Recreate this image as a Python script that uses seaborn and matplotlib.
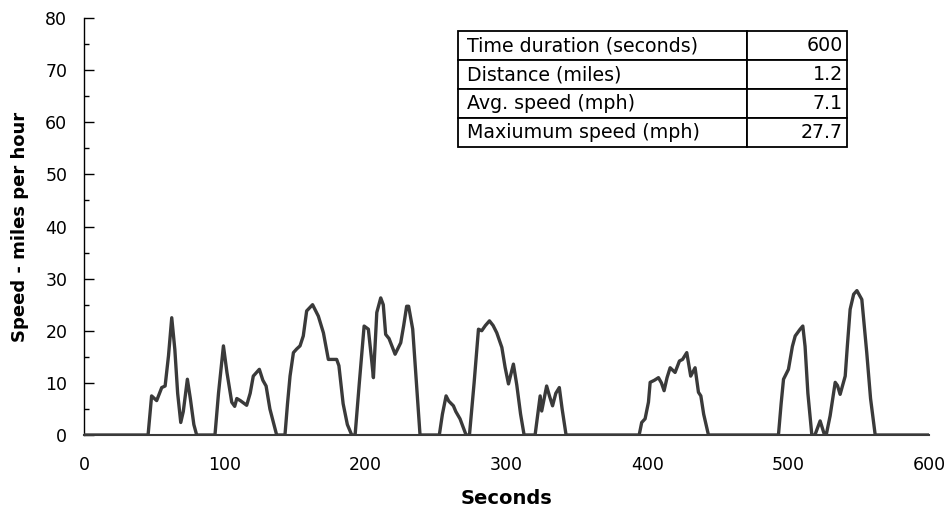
import matplotlib
matplotlib.use("Agg")
import matplotlib.pyplot as plt
import seaborn as sns
import pandas as pd

time_s = [0, 45.5, 48, 51.6, 55.2, 57.6, 60, 62.3, 64.5, 66.5, 68.7, 70.5, 73.4, 75.5, 78, 80,
          93, 95.5, 99, 101.5, 104.9, 107, 108.5, 111, 115.5, 118, 120.2, 124.5, 127, 129.3, 132, 136.8,
          142.7, 144.5, 146.3, 148.7, 151, 153.4, 155.7, 158.1, 162.3, 166.4, 170, 173.5, 179.4, 181, 184, 187, 190.1,
          192.5, 195.5, 198.9, 201.9, 204, 205.5, 207.9, 210.7, 212.5, 214.2, 216.6, 220.9, 224.9, 227, 229.1, 230.5,
          233.4, 236, 238.6,
          252.3, 254.5, 257.1, 259, 262.3, 264, 267, 271.3,
          273.7, 277, 280.1, 282.4, 285, 287.9, 290.5, 293.1, 296.7, 299, 301.4, 304.9, 307.3, 310, 312.5,
          320.3, 322.7, 323.9, 325, 328.5, 330.5, 332.7, 335, 337.5, 339.5, 342.3,
          394.2, 396, 398.4, 400.8, 402, 405, 407.9, 410, 411.9, 414, 416.2, 419.7, 422.8, 425, 428, 430.8, 433.9,
          436.3, 438, 440, 443.4,
          493.1, 495, 496.7, 500.2, 503, 505, 508.5, 510.4, 512, 514, 516.8,
          519, 522.7, 525.8, 527, 529.8, 533.4, 535, 536.9, 540.5, 542, 544, 546.5, 548.8, 552.3, 555.8, 558.5, 561.8,
          600]
speed_mph = [0, 0, 7.5, 6.6, 9.1, 9.4, 15.2, 22.5, 16.4, 8, 2.4, 4.5, 10.7, 7, 2, 0,
             0, 8, 17.1, 12, 6.3, 5.5, 7, 6.6, 5.7, 8, 11.3, 12.6, 10.5, 9.4, 5, 0,
             0, 6, 11.3, 15.8, 16.5, 17.1, 19, 23.8, 25.0, 22.8, 19.6, 14.5, 14.5, 13.3, 6, 2, 0,
             0, 10, 20.9, 20.3, 15, 11, 23.5, 26.3, 25, 19.3, 18.5, 15.5, 17.7, 21, 24.7, 24.7,
             20.3, 10, 0,
             0, 4, 7.5, 6.5, 5.6, 4.5, 3.1, 0,
             0, 10, 20.3, 20, 21, 21.9, 21, 19.6, 16.8, 13, 9.8, 13.6, 9.6, 4, 0,
             0, 5, 7.5, 4.6, 9.4, 7.5, 5.6, 8, 9.1, 5, 0,
             0, 2.4, 3.1, 6.3, 10.1, 10.5, 11, 10, 8.5, 11, 12.9, 12, 14.2, 14.5, 15.8, 11.3, 12.9,
             8.2, 7.5, 4, 0,
             0, 6, 10.7, 12.6, 17, 19, 20.3, 20.9, 17, 8, 0,
             0, 2.7, 0, 0, 3.7, 10.1, 9.5, 7.8, 11.3, 17, 24.1, 27, 27.7, 26, 15.8, 7, 0,
             0]

table_labels = ["Time duration (seconds)", "Distance (miles)", "Avg. speed (mph)", "Maxiumum speed (mph)"]
table_values = ["600", "1.2", "7.1", "27.7"]

x_ticks = [0, 100, 200, 300, 400, 500, 600]
y_ticks = [0, 10, 20, 30, 40, 50, 60, 70, 80]

sns.set_style("white")
plt.rcParams['font.family'] = ['DejaVu Sans']
plt.rcParams['text.color'] = 'black'
plt.rcParams['axes.labelcolor'] = 'black'
plt.rcParams['xtick.color'] = 'black'
plt.rcParams['ytick.color'] = 'black'

df = pd.DataFrame({"Seconds": time_s, "Speed": speed_mph})

fig = plt.figure(figsize=(9.53, 5.14), dpi=100)
ax = fig.add_axes([84/953, 79/514, 845/953, 417/514])
line_color = "#3a3a3a"
sns.lineplot(data=df, x="Seconds", y="Speed", ax=ax, color=line_color, linewidth=2.4, zorder=3)

ax.set_xlim(0, 600)
ax.set_ylim(0, 80)
ax.set_xticks(x_ticks)
ax.set_yticks(y_ticks)
ax.set_yticks([5, 15, 25, 35, 45, 55, 65, 75], minor=True)
ax.tick_params(axis="y", which="major", direction="in", length=7.2, width=1, color="black",
               labelsize=12.5, pad=12, left=True, labelcolor="black")
ax.tick_params(axis="y", which="minor", direction="in", length=3.6, width=1, color="black", left=True)
ax.tick_params(axis="x", which="major", length=0, labelsize=12.5, pad=15, labelcolor="black")

for s in ["top", "right"]:
    ax.spines[s].set_visible(False)
ax.spines["left"].set_color("black")
ax.spines["left"].set_linewidth(1.0)
ax.spines["bottom"].set_color(line_color)
ax.spines["bottom"].set_linewidth(1.5)
ax.grid(False)

ax.set_xlabel("Seconds", fontsize=14, fontweight="bold", labelpad=11, color="black")
ax.set_ylabel("Speed - miles per hour", fontsize=13, fontweight="bold", labelpad=12, color="black")

cells = [[l, v] for l, v in zip(table_labels, table_values)]
tbl = ax.table(cellText=cells, cellLoc="left", colWidths=[0.743, 0.257],
               bbox=[(458-84)/845, (435-147)/417, (847-458)/845, (147-31.5)/417])
tbl.auto_set_font_size(False)
for (r, c), cell in tbl.get_celld().items():
    cell.set_linewidth(1.3)
    cell.set_edgecolor("black")
    cell.get_text().set_fontsize(13.7)
    cell.get_text().set_color("black")
    if c == 1:
        cell.get_text().set_horizontalalignment("right")
        cell.PAD = 0.04
    else:
        cell.PAD = 0.03

fig.savefig("out.png", dpi=100)
